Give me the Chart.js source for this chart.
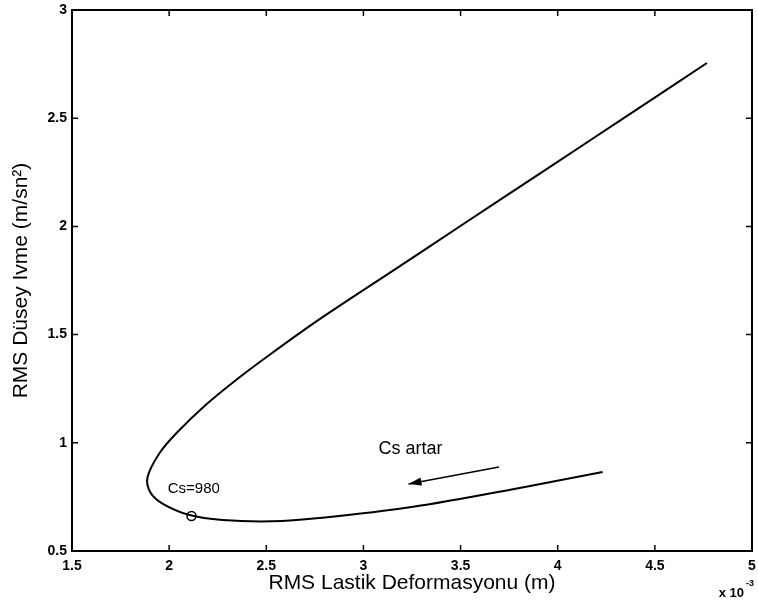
<!DOCTYPE html>
<html lang="tr">
<head>
    <meta charset="UTF-8">
    <title>RMS Düsey Ivme - RMS Lastik Deformasyonu</title>
    <script src="https://cdn.jsdelivr.net/npm/chart.js"></script>
    <style>
        html, body { margin: 0; padding: 0; background: #fff; }
        #wrap { width: 758px; height: 605px; }
    </style>
</head>
<body>

    <div id="wrap">
        <canvas id="rmsChart" width="758" height="605"></canvas>
    </div>

    <script>
        // curve, x in units of 1e-3 m, starting at the top right end
        const deformasyon = [4.768, 4.359, 3.933, 3.503, 3.180, 2.771, 2.530, 2.361, 2.192, 2.038, 1.951, 1.889, 1.903, 1.968, 2.105, 2.274, 2.530, 2.771, 3.247, 3.831, 4.231];
        const ivme = [2.755, 2.512, 2.259, 2.004, 1.812, 1.569, 1.415, 1.302, 1.178, 1.045, 0.953, 0.842, 0.772, 0.718, 0.666, 0.643, 0.637, 0.652, 0.703, 0.796, 0.865];

        // marked point Cs=980
        const isaretX = [2.115];
        const isaretY = [0.662];

        // arrow "Cs artar" (tail -> head)
        const okX = [3.698, 3.232];
        const okY = [0.888, 0.810];

        const xTicks = [1.5, 2, 2.5, 3, 3.5, 4, 4.5, 5];
        const yTicks = [0.5, 1, 1.5, 2, 2.5, 3];

        const fontName = "'Liberation Sans', Arial, Helvetica, sans-serif";

        // MATLAB style box with ticks pointing inwards, plus the annotations
        const matlabBox = {
            id: 'matlabBox',
            afterDraw(chart) {
                const ctx = chart.ctx;
                const a = chart.chartArea;
                const xs = chart.scales.x, ys = chart.scales.y;
                ctx.save();
                ctx.strokeStyle = '#000';
                ctx.lineWidth = 2;
                ctx.strokeRect(a.left, a.top, a.right - a.left, a.bottom - a.top);
                ctx.lineWidth = 1.5;
                ctx.beginPath();
                xTicks.forEach(v => {
                    const px = xs.getPixelForValue(v);
                    ctx.moveTo(px, a.bottom); ctx.lineTo(px, a.bottom - 6);
                    ctx.moveTo(px, a.top); ctx.lineTo(px, a.top + 6);
                });
                yTicks.forEach(v => {
                    const py = ys.getPixelForValue(v);
                    ctx.moveTo(a.left, py); ctx.lineTo(a.left + 6, py);
                    ctx.moveTo(a.right, py); ctx.lineTo(a.right - 6, py);
                });
                ctx.stroke();

                // arrow
                const x1 = xs.getPixelForValue(okX[0]), y1 = ys.getPixelForValue(okY[0]);
                const x2 = xs.getPixelForValue(okX[1]), y2 = ys.getPixelForValue(okY[1]);
                ctx.lineWidth = 1.6;
                ctx.beginPath();
                ctx.moveTo(x1, y1);
                ctx.lineTo(x2, y2);
                ctx.stroke();
                const ang = Math.atan2(y2 - y1, x2 - x1);
                const L = 13, W = 4;
                ctx.fillStyle = '#000';
                ctx.beginPath();
                ctx.moveTo(x2, y2);
                ctx.lineTo(x2 - L * Math.cos(ang) + W * Math.sin(ang), y2 - L * Math.sin(ang) - W * Math.cos(ang));
                ctx.lineTo(x2 - L * Math.cos(ang) - W * Math.sin(ang), y2 - L * Math.sin(ang) + W * Math.cos(ang));
                ctx.closePath();
                ctx.fill();

                // texts
                ctx.textBaseline = 'middle';
                ctx.textAlign = 'center';
                ctx.font = '18px ' + fontName;
                ctx.fillText('Cs artar', xs.getPixelForValue(3.242), ys.getPixelForValue(0.971));
                ctx.font = '15px ' + fontName;
                ctx.fillText('Cs=980', xs.getPixelForValue(2.127), ys.getPixelForValue(0.787));

                // exponent
                ctx.font = 'bold 13px ' + fontName;
                ctx.textAlign = 'right';
                ctx.fillText('x 10', 744, 593);
                ctx.font = 'bold 9px ' + fontName;
                ctx.textAlign = 'left';
                ctx.fillText('-3', 746, 584);
                ctx.restore();
            }
        };

        const ctx = document.getElementById('rmsChart').getContext('2d');

        const chart = new Chart(ctx, {
            type: 'scatter',
            data: {
                datasets: [{
                    data: deformasyon.map((v, i) => ({ x: v, y: ivme[i] })),
                    showLine: true,
                    borderColor: '#000',
                    borderWidth: 2,
                    pointRadius: 0,
                    tension: 0.35
                }, {
                    data: isaretX.map((v, i) => ({ x: v, y: isaretY[i] })),
                    pointStyle: 'circle',
                    pointRadius: 4.5,
                    borderColor: '#000',
                    borderWidth: 1.5,
                    backgroundColor: 'rgba(255,255,255,0)'
                }]
            },
            options: {
                responsive: false,
                animation: false,
                layout: { padding: { top: 10, right: 2 } },
                plugins: {
                    legend: { display: false },
                    tooltip: { enabled: false }
                },
                scales: {
                    x: {
                        type: 'linear',
                        min: 1.5,
                        max: 5,
                        afterFit: s => { s.height = 54; s.paddingLeft = 0; s.paddingRight = 0; },
                        afterBuildTicks: s => { s.ticks = xTicks.map(v => ({ value: v })); },
                        grid: { display: false, drawTicks: false },
                        border: { display: false },
                        ticks: {
                            color: '#000',
                            padding: 7,
                            maxRotation: 0,
                            font: { family: fontName, size: 14, weight: 'bold' },
                            callback: v => String(v)
                        },
                        title: {
                            display: true,
                            text: 'RMS Lastik Deformasyonu (m)',
                            color: '#000',
                            font: { family: fontName, size: 21 },
                            padding: { top: 0, bottom: 9 }
                        }
                    },
                    y: {
                        type: 'linear',
                        min: 0.5,
                        max: 3,
                        afterFit: s => { s.width = 72; s.paddingTop = 0; s.paddingBottom = 0; },
                        afterBuildTicks: s => { s.ticks = yTicks.map(v => ({ value: v })); },
                        grid: { display: false, drawTicks: false },
                        border: { display: false },
                        ticks: {
                            color: '#000',
                            padding: 5,
                            font: { family: fontName, size: 14, weight: 'bold' },
                            callback: v => String(v)
                        },
                        title: {
                            display: true,
                            text: 'RMS Düsey Ivme (m/sn²)',
                            color: '#000',
                            font: { family: fontName, size: 21 },
                            padding: { top: 9, bottom: 0 }
                        }
                    }
                }
            },
            plugins: [matlabBox]
        });
    </script>

</body>
</html>
